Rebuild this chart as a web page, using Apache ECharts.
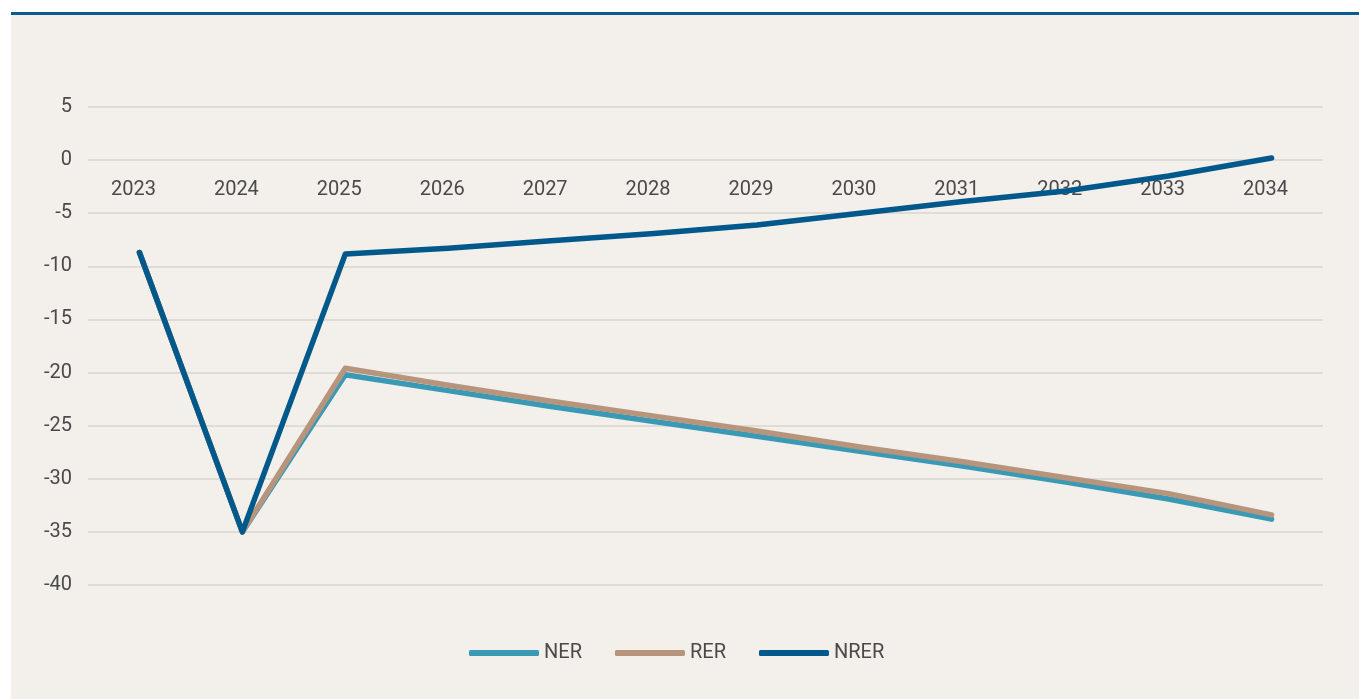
<!DOCTYPE html>
<html>
<head>
<meta charset="utf-8">
<script src="https://cdn.jsdelivr.net/npm/echarts@6/dist/echarts.min.js"></script>
<style>
    html, body { margin: 0; padding: 0; background: #ffffff; }
    .topline { position: absolute; left: 11px; top: 12px; width: 1348px; height: 3px; background: #0b5c8d; }
    .chart { position: absolute; left: 11px; top: 15px; width: 1348px; height: 684px; background: #f3efeb; }
</style>
</head>
<body>
<div class="topline"></div>
<div class="chart"></div>
<script>
// 数据
var years = ["2023", "2024", "2025", "2026", "2027", "2028", "2029", "2030", "2031", "2032", "2033", "2034"];
var ner = [-8.7, -35, -20.2, -21.7, -23.2, -24.6, -26.0, -27.4, -28.8, -30.3, -31.9, -33.8];
var rer = [-8.7, -35, -19.6, -21.2, -22.7, -24.1, -25.5, -27.0, -28.4, -29.9, -31.4, -33.4];
var nrer = [-8.7, -35, -8.85, -8.3, -7.6, -6.9, -6.1, -5.0, -3.9, -2.9, -1.5, 0.2];

(function () {
    var myChart = echarts.init(document.querySelector(".chart"));
    var font = "Roboto, sans-serif";
    var option = {
        color: ["#3a9ab6", "#b7957c", "#00598a"],
        textStyle: { fontFamily: font },
        grid: {
            left: 77,
            right: 36,
            top: 92,
            bottom: 114,
            containLabel: false,
        },
        legend: {
            data: ["NER", "RER", "NRER"],
            top: 623,
            left: 453,
            icon: "roundRect",
            itemWidth: 70,
            itemHeight: 6,
            itemGap: 33,
            textStyle: { color: "#4a4a4a", fontSize: 20, fontFamily: font },
        },
        xAxis: {
            type: "category",
            data: years,
            boundaryGap: true,
            axisLine: { show: false },
            axisTick: { show: false },
            // 年份标签放在0线下方
            axisLabel: {
                color: "#4a4a4a",
                fontSize: 20,
                margin: -405,
                padding: [0, 12, 0, 0],
            },
        },
        yAxis: {
            type: "value",
            min: -40,
            max: 5,
            interval: 5,
            axisLine: { show: false },
            axisTick: { show: false },
            axisLabel: { color: "#4a4a4a", fontSize: 20, margin: 16 },
            splitLine: { lineStyle: { color: "#d8d4d1", width: 1.5 } },
        },
        series: [
            {
                name: "NER",
                type: "line",
                data: ner,
                symbol: "none",
                lineStyle: { width: 5.5, cap: "round", join: "round" },
            },
            {
                name: "RER",
                type: "line",
                data: rer,
                symbol: "none",
                lineStyle: { width: 5.5, cap: "round", join: "round" },
            },
            {
                name: "NRER",
                type: "line",
                data: nrer,
                symbol: "none",
                lineStyle: { width: 5.5, cap: "round", join: "round" },
            },
        ],
    };
    myChart.setOption(option);
    window.addEventListener("resize", function () {
        myChart.resize();
    });
})();
</script>
</body>
</html>
